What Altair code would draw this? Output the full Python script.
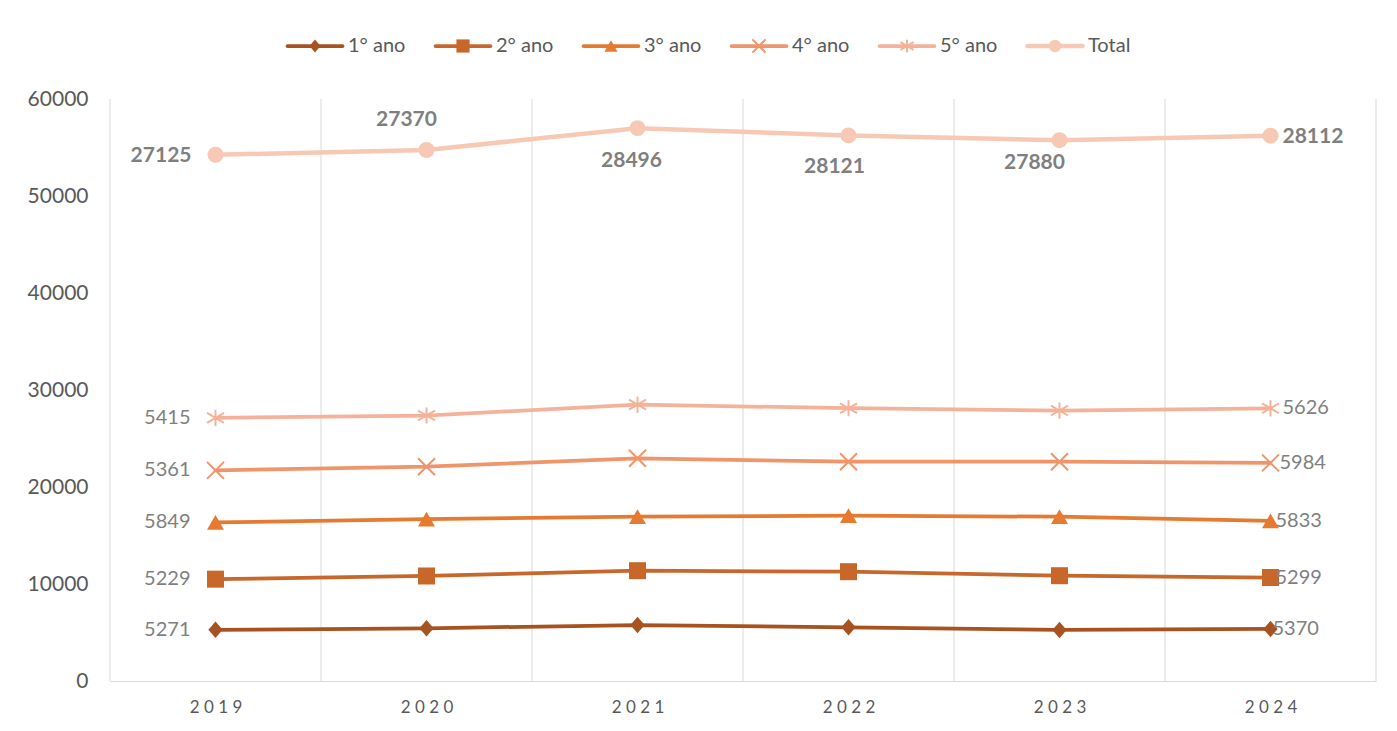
import altair as alt
import pandas as pd

# ---------------- data ----------------
years = [2019, 2020, 2021, 2022, 2023, 2024]
series_names = ["1° ano", "2° ano", "3° ano", "4° ano", "5° ano", "Total"]
ano1 = [5271, 5433, 5773, 5536, 5258, 5370]
ano2 = [5229, 5392, 5598, 5732, 5598, 5299]
ano3 = [5849, 5855, 5567, 5773, 6082, 5833]
ano4 = [5361, 5413, 6021, 5567, 5670, 5984]
ano5 = [5415, 5277, 5537, 5513, 5272, 5626]
total = [27125, 27370, 28496, 28121, 27880, 28112]
y_ticks = [0, 10000, 20000, 30000, 40000, 50000, 60000]

values = [ano1, ano2, ano3, ano4, ano5, total]
rows = []
for k, (name, vals) in enumerate(zip(series_names, values)):
    for yr, v in zip(years, vals):
        rows.append({"year": yr, "series": name, "order": k, "value": v})
df = pd.DataFrame(rows)

bounds = pd.DataFrame({"year": [yr - 0.5 for yr in years] + [years[-1] + 0.5]})
legend_df = pd.DataFrame({"series": series_names, "idx": list(range(len(series_names)))})

# ---------------- styles ----------------
FONT = "Lato"
W, H = 1266, 582
X_PATH = "M-1,-1L1,1M-1,1L1,-1"
AST_PATH = "M0,-0.95L0,0.95M-1,-0.58L1,0.58M-1,0.58L1,-0.58"
TRI_PATH = "M0,-0.87L1,0.87L-1,0.87Z"
DIA_PATH = "M0,-1.1L0.95,0L0,1.1L-0.95,0Z"

styles = {
    "1° ano": dict(color="#A8521F", shape=DIA_PATH, size=225, filled=True, width=3.75, rdx=2),
    "2° ano": dict(color="#C8672A", shape="square", size=289, filled=True, width=3.75, rdx=5),
    "3° ano": dict(color="#E67A30", shape=TRI_PATH, size=289, filled=True, width=3.75, rdx=5),
    "4° ano": dict(color="#F0946A", shape=X_PATH, size=289, filled=False, width=3.75, rdx=9),
    "5° ano": dict(color="#F4B29B", shape=AST_PATH, size=289, filled=False, width=3.75, rdx=12),
    "Total": dict(color="#F7C9B5", shape="circle", size=256, filled=True, width=4.5, rdx=12),
}
total_label_pos = {
    2019: dict(align="right", dx=-24, dy=1),
    2020: dict(align="center", dx=-20, dy=-30),
    2021: dict(align="center", dx=-6, dy=33),
    2022: dict(align="center", dx=-14, dy=32),
    2023: dict(align="center", dx=-25, dy=23),
    2024: dict(align="left", dx=12, dy=1),
}

xdef = alt.X(
    "year:Q",
    scale=alt.Scale(domain=[years[0] - 0.5, years[-1] + 0.5], nice=False, zero=False),
    axis=alt.Axis(
        values=years,
        labelExpr="join(split(toString(datum.value), ''), ' ')",
        grid=False, ticks=False, domain=True, domainColor="#D9D9D9", domainWidth=1,
        labelFont=FONT, labelFontSize=17, labelColor="#595959", labelPadding=18, title=None,
    ),
)
ydef = alt.Y(
    "cum:Q",
    scale=alt.Scale(domain=[0, 60000], nice=False, zero=True),
    axis=alt.Axis(
        values=y_ticks, format="d", grid=False, ticks=False, domain=False,
        labelFont=FONT, labelFontSize=21, labelColor="#595959", labelPadding=22,
        title=None, minExtent=92, maxExtent=92,
    ),
)

grid = alt.Chart(bounds).mark_rule(color="#D9D9D9", strokeWidth=1).encode(x=xdef)

base = alt.Chart(df).transform_window(
    cum="sum(value)",
    groupby=["year"],
    sort=[alt.SortField("order", order="ascending")],
    frame=[None, 0],
)

line_layers = []
label_layers = []
for name in series_names:
    st = styles[name]
    b = base.transform_filter(alt.datum.series == name)
    line_layers.append(
        b.mark_line(color=st["color"], strokeWidth=st["width"], strokeCap="round", strokeJoin="round")
        .encode(x=xdef, y=ydef)
    )
    line_layers.append(
        b.mark_point(shape=st["shape"], size=st["size"], filled=st["filled"], color=st["color"],
                     strokeWidth=2 if not st["filled"] else 0, opacity=1)
        .encode(x=xdef, y=ydef)
    )
    if name != "Total":
        label_layers.append(
            b.transform_filter(alt.datum.year == years[0])
            .mark_text(align="right", baseline="middle", dx=-25, font=FONT, fontSize=20, color="#7F7F7F")
            .encode(x=xdef, y=ydef, text=alt.Text("value:Q", format="d"))
        )
        label_layers.append(
            b.transform_filter(alt.datum.year == years[-1])
            .mark_text(align="left", baseline="middle", dx=st["rdx"], font=FONT, fontSize=20, color="#7F7F7F")
            .encode(x=xdef, y=ydef, text=alt.Text("value:Q", format="d"))
        )
    else:
        for yr in years:
            p = total_label_pos[yr]
            label_layers.append(
                b.transform_filter(alt.datum.year == yr)
                .mark_text(align=p["align"], baseline="middle", dx=p["dx"], dy=p["dy"], font=FONT,
                           fontSize=21, fontWeight="bold", color="#7F7F7F")
                .encode(x=xdef, y=ydef, text=alt.Text("value:Q", format="d"))
            )

main = alt.layer(grid, *line_layers, *label_layers).properties(width=W, height=H)

# ---------------- legend (own small chart) ----------------
LEG_FIRST, LEG_STEP = 205, 148
d0 = -LEG_FIRST / LEG_STEP
d1 = d0 + W / LEG_STEP
lx = alt.X("idx:Q", scale=alt.Scale(domain=[d0, d1], nice=False, zero=False), axis=None)
leg_layers = []
for i, name in enumerate(series_names):
    st = styles[name]
    lb = alt.Chart(legend_df).transform_filter(alt.datum.idx == i)
    leg_layers.append(
        lb.mark_point(shape="M-1,0L1,0", size=55 ** 2, filled=False, color=st["color"],
                      strokeWidth=st["width"], strokeCap="round", opacity=1).encode(x=lx)
    )
    leg_layers.append(
        lb.mark_point(shape=st["shape"], size=st["size"] * 0.6, filled=st["filled"], color=st["color"],
                      strokeWidth=2 if not st["filled"] else 0, opacity=1).encode(x=lx)
    )
    leg_layers.append(
        lb.mark_text(align="left", baseline="middle", dx=33, font=FONT, fontSize=20, color="#595959")
        .encode(x=lx, text="series:N")
    )
legend = alt.layer(*leg_layers).properties(width=W, height=56)

chart = (
    alt.vconcat(legend, main, spacing=14)
    .resolve_scale(x="independent", y="independent")
    .properties(padding={"left": 10, "top": 10, "right": 10, "bottom": 5})
    .configure(font=FONT)
    .configure_view(stroke=None)
)

chart.save("out.html", embed_options={"renderer": "svg", "actions": False})
